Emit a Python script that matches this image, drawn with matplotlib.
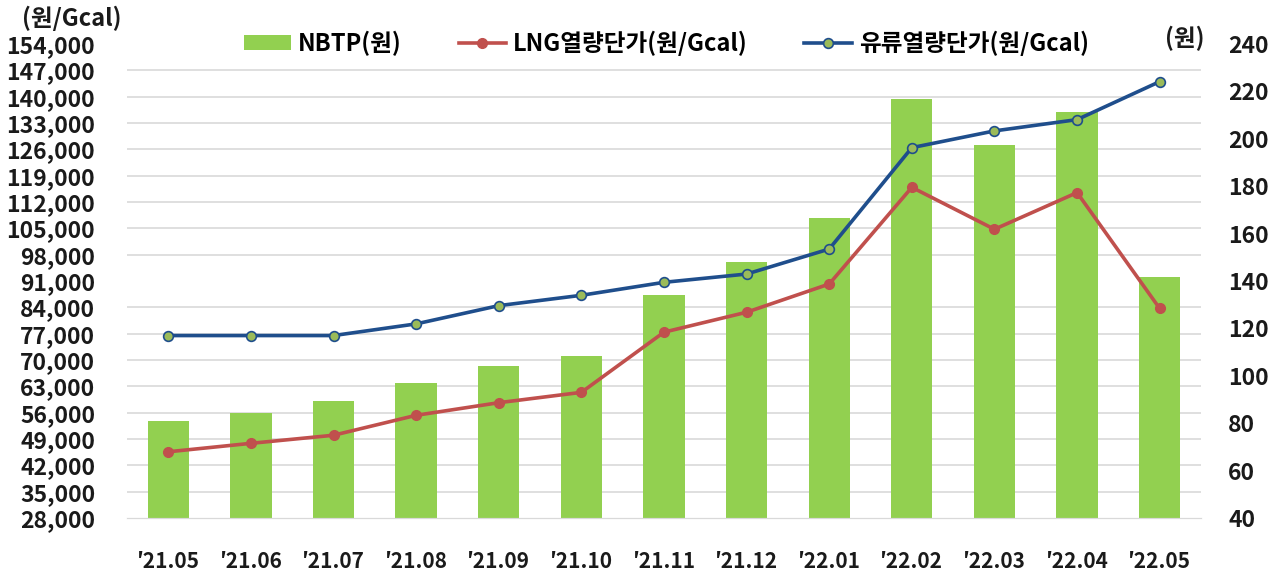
import matplotlib.pyplot as plt
import numpy as np

plt.rcParams['font.family'] = ['Noto Sans CJK KR', 'DejaVu Sans']

months = ["′21.05", "′21.06", "′21.07", "′21.08", "′21.09", "′21.10", "′21.11",
          "′21.12", "′22.01", "′22.02", "′22.03", "′22.04", "′22.05"]
nbtp = [80.8, 84.4, 89.2, 97.0, 104.0, 108.2, 134.1, 148.1, 166.5, 216.8, 197.3, 211.2, 141.8]
lng = [45600, 47850, 50000, 55300, 58650, 61400, 77400, 82700, 90200, 115900, 104750, 114500, 83700]
oil = [76500, 76500, 76500, 79600, 84450, 87200, 90650, 92850, 99500, 126450, 130900, 133900, 144000]

left_ticks = np.arange(28000, 154001, 7000)
right_ticks = np.arange(40, 241, 20)

fig = plt.figure(figsize=(12.79, 5.76), dpi=100)
ax = fig.add_axes([0.0993, 0.1007, 0.8397, 0.8229])
ax2 = ax.twinx()
ax.set_zorder(ax2.get_zorder() + 1)
ax.patch.set_visible(False)

x = np.arange(len(months))

# 막대 (오른쪽 축)
b = ax2.bar(x, nbtp, width=0.5, color='#92D050', label='NBTP(원)', zorder=2)
ax2.set_ylim(40, 240)
ax2.set_yticks(right_ticks)
ax2.set_yticks(np.linspace(40, 240, len(left_ticks)), minor=True)
ax2.grid(True, which='minor', axis='y', color='#D9D9D9', lw=1.2, zorder=0)
ax2.set_axisbelow(True)
ax2.tick_params(axis='y', which='both', length=0, pad=19.5)

# 선 (왼쪽 축)
l1, = ax.plot(x, lng, color='#C0504D', lw=2.6, marker='o', ms=7,
              mfc='#C0504D', mec='#C0504D', label='LNG열량단가(원/Gcal)')
l2, = ax.plot(x, oil, color='#1F4E8C', lw=2.6, marker='o', ms=7,
              mfc='#9BBB59', mec='#1F4E8C', mew=1.2, label='유류열량단가(원/Gcal)')
ax.set_ylim(28000, 154000)
ax.set_yticks(left_ticks)
ax.set_yticklabels([f'{v:,}' for v in left_ticks])
ax.set_xlim(-0.5, len(months) - 0.5)
ax.set_xticks(x)
ax.set_xticklabels(months)
ax.tick_params(axis='y', length=0, pad=23)
ax.tick_params(axis='x', length=0, pad=24)

for a in (ax, ax2):
    for s in ('top', 'left', 'right'):
        a.spines[s].set_visible(False)
    a.spines['bottom'].set_color('#D9D9D9')
    for lab in a.get_yticklabels():
        lab.set_fontsize(16.5)
        lab.set_fontweight('bold')
        lab.set_color('#1a1a1a')
    for lab in a.get_xticklabels():
        lab.set_fontsize(15)
        lab.set_fontweight('bold')
        lab.set_color('#1a1a1a')

fig.text(0.017, 0.968, '(원/Gcal)', fontsize=17, fontweight='bold', color='#1a1a1a', va='center')
fig.text(0.911, 0.934, '(원)', fontsize=17, fontweight='bold', color='#1a1a1a', va='center')

fig.legend([b, l1, l2], ['NBTP(원)', 'LNG열량단가(원/Gcal)', '유류열량단가(원/Gcal)'],
           loc='center', bbox_to_anchor=(0.521, 0.925), ncol=3, frameon=False,
           prop={'size': 17, 'weight': 'bold'}, handlelength=2.0, handleheight=0.6,
           handletextpad=0.3, columnspacing=2.4)

fig.savefig('out.png', dpi=100)
